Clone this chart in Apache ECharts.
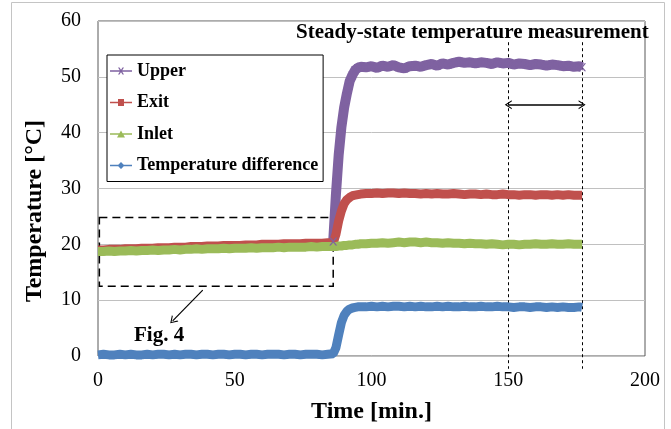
<!DOCTYPE html>
<html>
<head>
<meta charset="utf-8">
<script src="https://cdn.jsdelivr.net/npm/echarts@6/dist/echarts.min.js"></script>
<style>
html,body{margin:0;padding:0;background:#fff;}
#chart{width:671px;height:429px;}
</style>
</head>
<body>
<div id="chart"></div>
<script>
// ---- data ----
const times = [0,2,4,6,8,10,12,14,16,18,20,22,24,26,28,30,32,34,36,38,40,42,44,46,48,50,52,54,56,58,60,62,64,66,68,70,72,74,76,78,80,82,84,
  86,87,88,89,90,91,92,93,94,95,96,
  98,100,102,104,106,108,110,112,114,116,118,120,122,124,126,128,130,132,134,136,138,140,142,144,146,148,150,152,154,156,158,160,162,164,166,168,170,172,174,176,
  177];

const upperValues = [null,null,null,null,null,null,null,null,null,null,null,null,null,null,null,null,null,null,null,null,null,null,null,null,null,null,null,null,null,null,null,null,null,null,null,null,null,null,null,null,null,null,null,
  20.5,29,36,41,44.5,47,49.2,50.3,51.2,51.6,51.8,
  51.7,51.9,51.6,52.0,51.8,52.1,51.7,51.5,51.9,52.0,
  51.8,52.1,52.3,52.0,52.4,52.2,52.5,52.7,52.5,52.6,
  52.4,52.6,52.5,52.3,52.6,52.4,52.5,52.2,52.4,52.3,
  52.1,52.3,52.2,52.0,52.2,52.1,51.9,52.0,51.8,51.9,
  51.7];

const exitValues = [19.0,19.0,19.1,19.1,19.1,19.2,19.2,19.2,19.3,19.3,
  19.3,19.4,19.4,19.4,19.5,19.5,19.5,19.6,19.6,19.6,
  19.7,19.7,19.7,19.8,19.8,19.8,19.8,19.9,19.9,19.9,
  20.0,20.0,20.0,20.0,20.1,20.1,20.1,20.1,20.2,20.2,
  20.2,20.2,20.3,
  20.3,21.8,24.2,26.0,27.3,28.0,28.4,28.7,28.8,28.9,29.0,
  29.1,29.1,29.2,29.1,29.2,29.2,29.1,29.2,29.1,29.1,
  29.0,29.1,29.0,29.1,29.0,29.0,29.1,29.0,28.9,29.0,
  29.0,28.9,29.0,28.9,28.9,29.0,28.9,28.9,28.8,28.9,
  28.9,28.8,28.9,28.9,28.8,28.9,28.8,28.9,28.8,28.8,
  28.8];

const inletValues = [18.7,18.7,18.8,18.7,18.8,18.8,18.9,18.8,18.9,18.9,
  19.0,18.9,19.0,19.0,19.1,19.0,19.1,19.1,19.2,19.1,
  19.2,19.2,19.2,19.3,19.2,19.3,19.3,19.3,19.4,19.3,
  19.4,19.4,19.4,19.5,19.4,19.5,19.5,19.5,19.5,19.6,
  19.5,19.6,19.6,
  19.6,19.6,19.7,19.7,19.8,19.8,19.9,19.9,20.0,20.0,20.1,
  20.1,20.2,20.2,20.3,20.2,20.3,20.4,20.3,20.4,20.4,
  20.3,20.4,20.3,20.3,20.2,20.3,20.2,20.2,20.1,20.2,
  20.1,20.1,20.0,20.1,20.0,19.9,20.0,20.0,19.9,20.0,
  20.0,20.1,20.0,20.0,20.1,20.0,20.0,20.1,20.0,20.0,
  20.0];

const diffValues = [0.2,0.3,0.2,0.2,0.3,0.2,0.3,0.2,0.2,0.3,
  0.2,0.3,0.3,0.2,0.3,0.2,0.3,0.3,0.2,0.3,
  0.3,0.2,0.3,0.3,0.2,0.3,0.3,0.2,0.3,0.3,
  0.2,0.3,0.3,0.3,0.2,0.3,0.3,0.2,0.3,0.3,
  0.3,0.2,0.3,
  0.4,1.5,3.8,6.0,7.3,8.0,8.4,8.6,8.7,8.8,8.8,
  8.8,8.9,8.8,8.9,8.8,8.9,8.9,8.8,8.9,8.8,
  8.9,8.8,8.8,8.9,8.8,8.9,8.8,8.8,8.9,8.8,
  8.8,8.9,8.8,8.8,8.9,8.8,8.8,8.7,8.8,8.8,
  8.7,8.8,8.8,8.7,8.8,8.7,8.8,8.7,8.7,8.8,
  8.7];

const seriesNames = ['Upper','Exit','Inlet','Temperature difference'];
const xTicks = [0,50,100,150,200];
const yTicks = [0,10,20,30,40,50,60];
const steadyStart = 150, steadyEnd = 177;

// ---- chart ----
const pairs = v => times.map((t,i)=>[t, v[i]]);
const serif = '"Liberation Serif","Times New Roman",serif';
const colors = ['#7f62a1','#c0504d','#9bbb59','#4f81bd'];
const icons = [
  'path://M0,2.8L22,2.8L22,4.2L0,4.2Z M8,0L9.5,0L14,7L12.5,7Z M12.5,0L14,0L9.5,7L8,7Z',
  'path://M0,2.8L22,2.8L22,4.2L0,4.2Z M8,0L14,0L14,7L8,7Z',
  'path://M0,2.8L22,2.8L22,4.2L0,4.2Z M7,7L11,0L15,7Z',
  'path://M0,2.8L22,2.8L22,4.2L0,4.2Z M11,0L14.5,3.5L11,7L7.5,3.5Z'
];
const crossSym = 'path://M0,0L2,0L10,10L8,10Z M8,0L10,0L2,10L0,10Z';
const chevron = 'path://M0,10L5,0L10,10L8.6,10L5,2.8L1.4,10Z';

const chart = echarts.init(document.getElementById('chart'), null, {renderer:'canvas'});
const option = {
  animation:false,
  backgroundColor:'#fff',
  textStyle:{fontFamily:serif},
  grid:{left:98, right:26, top:21, bottom:72, show:true, borderColor:'#595959', borderWidth:1},
  title:{text:'Steady-state temperature measurement', left:291, top:17,
    textStyle:{fontFamily:serif, fontWeight:'bold', fontSize:21, color:'#000'}},
  legend:{orient:'vertical', left:107, top:55, padding:[7,5,7,3], itemGap:13.5,
    itemWidth:22, itemHeight:7, borderColor:'#000', borderWidth:1, backgroundColor:'#fff',
    textStyle:{fontFamily:serif, fontWeight:'bold', fontSize:18, color:'#000', lineHeight:17},
    data:seriesNames.map((n,i)=>({name:n, icon:icons[i]}))},
  xAxis:{type:'value', min:xTicks[0], max:xTicks[xTicks.length-1], interval:50,
    name:'Time [min.]', nameLocation:'middle', nameGap:44,
    nameTextStyle:{fontFamily:serif, fontWeight:'bold', fontSize:24, color:'#000'},
    axisLine:{show:false}, axisTick:{show:false}, splitLine:{show:false},
    axisLabel:{fontFamily:serif, fontSize:20, color:'#000', margin:15}},
  yAxis:{type:'value', min:yTicks[0], max:yTicks[yTicks.length-1], interval:10,
    axisLine:{show:false}, axisTick:{show:false},
    splitLine:{lineStyle:{color:'#c0c0c0', width:1}},
    axisLabel:{fontFamily:serif, fontSize:20, color:'#000', margin:17}},
  series:[
    {name:seriesNames[0], type:'line', data:pairs(upperValues), color:colors[0],
      symbol:crossSym, symbolSize:8, showSymbol:true, showAllSymbol:true,
      lineStyle:{width:10}, itemStyle:{color:colors[0]}, connectNulls:false},
    {name:seriesNames[1], type:'line', data:pairs(exitValues), color:colors[1],
      symbol:'none', lineStyle:{width:9}},
    {name:seriesNames[2], type:'line', data:pairs(inletValues), color:colors[2],
      symbol:'none', lineStyle:{width:9}},
    {name:seriesNames[3], type:'line', data:pairs(diffValues), color:colors[3],
      symbol:'none', lineStyle:{width:9}, clip:false,
      markLine:{silent:true, symbol:'none', label:{show:false},
        lineStyle:{color:'#000', type:'solid', width:1.5},
        data:[
          [{coord:[steadyStart,45], symbol:chevron, symbolSize:[9,7]},{coord:[steadyEnd,45], symbol:chevron, symbolSize:[9,7]}],
          [{coord:[38.3,11.8], symbol:'none'},{coord:[27.3,6.3], symbol:chevron, symbolSize:[9,7], lineStyle:{width:1.2}}]
        ]},
      markArea:{silent:true, label:{show:false},
        itemStyle:{color:'rgba(0,0,0,0)', borderColor:'#000', borderWidth:1.5, borderType:[8,5]},
        data:[[{coord:[0.5,24.8]},{coord:[86,12.5]}]]}
    }
  ],
  graphic:[
    {type:'rect', shape:{x:11.5, y:2.5, width:653, height:440}, style:{fill:'none', stroke:'#c4c4c4', lineWidth:1}, silent:true, z:-1},
    {type:'text', left:134, top:325, style:{text:'Fig. 4', font:'bold 21px '+serif, fill:'#000'}},
    {type:'text', x:35, y:211, rotation:Math.PI/2, style:{text:'Temperature [°C]', font:'bold 24px '+serif, fill:'#000', align:'center', verticalAlign:'middle'}}
  ]
};
chart.setOption(option);

// dashed guide lines for the steady-state window, placed through the axes' scales
const guides = [steadyStart, steadyEnd].map(t => {
  const top = chart.convertToPixel({gridIndex:0}, [t, 56.2]);
  const bot = chart.convertToPixel({gridIndex:0}, [t, -2.3]);
  return {type:'line', silent:true, z:1,
    shape:{x1:Math.round(top[0])+0.5, y1:top[1], x2:Math.round(bot[0])+0.5, y2:bot[1]},
    style:{stroke:'#000', lineWidth:1, lineDash:[3,3]}};
});
chart.setOption({graphic:option.graphic.concat(guides)});
</script>
</body>
</html>
